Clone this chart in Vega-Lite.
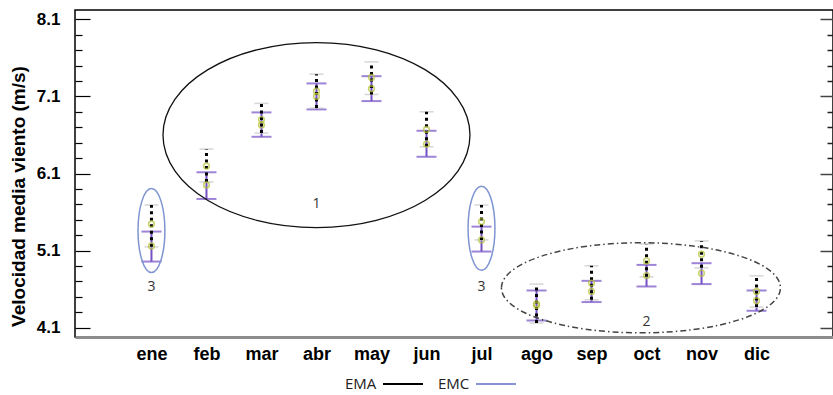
{
  "$schema": "https://vega.github.io/schema/vega-lite/v6.json",
  "autosize": {"type": "none"},
  "width": 758,
  "height": 327,
  "padding": {"left": 75, "top": 10, "right": 0, "bottom": 58},
  "background": "white",
  "config": {"view": {"stroke": "#000", "strokeWidth": 1.5}, "font": "Liberation Sans"},
  "datasets": {
    "bars": [
      {"month": "ene", "series": "EMA", "low": 5.149, "high": 5.692, "mean": 5.446},
      {"month": "feb", "series": "EMA", "low": 5.99, "high": 6.417, "mean": 6.197},
      {"month": "mar", "series": "EMA", "low": 6.624, "high": 7.009, "mean": 6.8},
      {"month": "abr", "series": "EMA", "low": 6.948, "high": 7.388, "mean": 7.168},
      {"month": "may", "series": "EMA", "low": 7.125, "high": 7.547, "mean": 7.345},
      {"month": "jun", "series": "EMA", "low": 6.447, "high": 6.9, "mean": 6.672},
      {"month": "jul", "series": "EMA", "low": 5.239, "high": 5.692, "mean": 5.476},
      {"month": "ago", "series": "EMA", "low": 4.161, "high": 4.666, "mean": 4.41},
      {"month": "sep", "series": "EMA", "low": 4.462, "high": 4.903, "mean": 4.68},
      {"month": "oct", "series": "EMA", "low": 4.76, "high": 5.187, "mean": 4.967},
      {"month": "nov", "series": "EMA", "low": 4.877, "high": 5.226, "mean": 5.054},
      {"month": "dic", "series": "EMA", "low": 4.368, "high": 4.773, "mean": 4.57},
      {"month": "ene", "series": "EMC", "low": 4.958, "high": 5.347, "mean": 5.161},
      {"month": "feb", "series": "EMC", "low": 5.77, "high": 6.116, "mean": 5.951},
      {"month": "mar", "series": "EMC", "low": 6.576, "high": 6.892, "mean": 6.73},
      {"month": "abr", "series": "EMC", "low": 6.931, "high": 7.268, "mean": 7.1},
      {"month": "may", "series": "EMC", "low": 7.039, "high": 7.362, "mean": 7.2},
      {"month": "jun", "series": "EMC", "low": 6.317, "high": 6.654, "mean": 6.482},
      {"month": "jul", "series": "EMC", "low": 5.088, "high": 5.411, "mean": 5.239},
      {"month": "ago", "series": "EMC", "low": 4.194, "high": 4.583, "mean": 4.39},
      {"month": "sep", "series": "EMC", "low": 4.433, "high": 4.708, "mean": 4.57},
      {"month": "oct", "series": "EMC", "low": 4.635, "high": 4.915, "mean": 4.777},
      {"month": "nov", "series": "EMC", "low": 4.666, "high": 4.937, "mean": 4.808},
      {"month": "dic", "series": "EMC", "low": 4.32, "high": 4.583, "mean": 4.45}
    ],
    "notes": [
      {"kind": "big", "month": "abr", "y": 6.598},
      {"kind": "small", "month": "ene", "y": 5.36},
      {"kind": "small", "month": "jul", "y": 5.39},
      {"kind": "dashdot", "month": "oct", "y": 4.618},
      {"kind": "label", "month": "abr", "y": 5.705, "text": "1"},
      {"kind": "label", "month": "oct", "y": 4.178, "text": "2"},
      {"kind": "label", "month": "ene", "y": 4.63, "text": "3"},
      {"kind": "label", "month": "jul", "y": 4.63, "text": "3"}
    ]
  },
  "resolve": {
    "scale": {"x": "shared", "y": "shared"},
    "axis": {"x": "independent", "y": "independent"}
  },
  "encoding": {
    "x": {"field": "month", "type": "ordinal", "scale": {"type": "point", "padding": 0.39, "domain": ["", "ene","feb","mar","abr","may","jun","jul","ago","sep","oct","nov","dic", " "]}, "axis": null}
  },
  "layer": [
    {
      "data": {"name": "bars"},
      "transform": [{"filter": "datum.series === 'EMC'"}],
      "mark": {"type": "rule", "color": "#7450c4", "strokeWidth": 2},
      "encoding": {
        "x": {"field": "month", "type": "ordinal", "scale": {"type": "point", "padding": 0.39, "domain": ["", "ene","feb","mar","abr","may","jun","jul","ago","sep","oct","nov","dic", " "]},
          "axis": {"orient": "bottom", "title": null, "ticks": false, "domainColor": "#8c8c8c", "domainWidth": 3, "labelFont": "Liberation Sans", "labelFontWeight": "bold", "labelFontSize": 18, "labelColor": "#000", "labelPadding": 8, "labelAngle": 0}},
        "y": {"field": "low", "type": "quantitative", "scale": {"domain": [3.98, 8.22], "nice": false, "zero": false},
          "axis": {"orient": "left", "offset": -15, "title": "Velocidad media viento (m/s)", "titleFont": "Liberation Sans", "titleFontWeight": "bold", "titleFontSize": 19, "titleColor": "#000", "titlePadding": 8, "titleY": 186,
            "values": [4.1, 5.1, 6.1, 7.1, 8.1], "format": ".1f",
            "tickSize": 15, "tickColor": "#000", "tickWidth": 1.2, "domain": false, "grid": false,
            "labelFont": "Liberation Sans", "labelFontWeight": "bold", "labelFontSize": 17, "labelColor": "#000", "labelPadding": 15}},
        "y2": {"field": "high"}
      }
    },
    {
      "data": {"name": "bars"},
      "transform": [{"filter": "datum.series === 'EMC'"}, {"fold": ["low", "high"], "as": ["end", "val"]}],
      "mark": {"type": "tick", "color": "#7450c4", "size": 20, "thickness": 2},
      "encoding": {
        "y": {"field": "val", "type": "quantitative", "scale": {"domain": [3.98, 8.22], "nice": false, "zero": false},
          "axis": {"orient": "left", "offset": -7, "title": null, "labels": false, "domain": false, "grid": false,
            "values": [4.3,4.5,4.7,4.9,5.3,5.5,5.7,5.9,6.3,6.5,6.7,6.9,7.3,7.5,7.7,7.9],
            "tickSize": 7, "tickColor": "#000", "tickWidth": 1.2}}
      }
    },
    {
      "data": {"name": "bars"},
      "transform": [{"filter": "datum.series === 'EMA'"}, {"fold": ["low", "high"], "as": ["end", "val"]}],
      "mark": {"type": "tick", "color": "#c4c4c4", "size": 14, "thickness": 1.5},
      "encoding": {
        "y": {"field": "val", "type": "quantitative", "scale": {"domain": [3.98, 8.22], "nice": false, "zero": false},
          "axis": {"orient": "right", "offset": -13, "title": null, "labels": false, "domain": false, "grid": false,
            "values": [4.1, 5.1, 6.1, 7.1, 8.1],
            "tickSize": 13, "tickColor": "#444", "tickWidth": 1.5}}
      }
    },
    {
      "data": {"name": "bars"},
      "transform": [{"filter": "datum.series === 'EMA'"}],
      "mark": {"type": "rule", "color": "#000", "strokeWidth": 3, "strokeDash": [3, 3.5]},
      "encoding": {
        "y": {"field": "low", "type": "quantitative", "scale": {"domain": [3.98, 8.22], "nice": false, "zero": false},
          "axis": {"orient": "right", "offset": -6, "title": null, "labels": false, "domain": false, "grid": false,
            "values": [4.3,4.5,4.7,4.9,5.3,5.5,5.7,5.9,6.3,6.5,6.7,6.9,7.3,7.5,7.7,7.9],
            "tickSize": 6, "tickColor": "#222", "tickWidth": 1.5}},
        "y2": {"field": "high"}
      }
    },
    {
      "data": {"name": "bars"},
      "mark": {"type": "point", "shape": "circle", "filled": false, "stroke": "#b5c236", "strokeWidth": 1.6, "size": 32},
      "encoding": {
        "y": {"field": "mean", "type": "quantitative", "scale": {"domain": [3.98, 8.22], "nice": false, "zero": false}, "axis": null}
      }
    },
    {
      "data": {"name": "bars"},
      "mark": {"type": "rule", "opacity": 0},
      "encoding": {
        "y": {"field": "low", "type": "quantitative", "scale": {"domain": [3.98, 8.22], "nice": false, "zero": false}, "axis": null},
        "y2": {"field": "high"},
        "color": {"field": "series", "type": "nominal", "scale": {"domain": ["EMA", "EMC"], "range": ["#000000", "#8a90d8"]},
          "legend": {"orient": "none", "legendX": 268, "legendY": 353, "direction": "horizontal", "title": null,
            "symbolType": "stroke", "symbolSize": 1600, "symbolStrokeWidth": 2, "symbolOpacity": 1,
            "symbolOffset": 39, "labelOffset": -79, "columnPadding": 9,
            "labelFont": "Open Sans", "labelFontSize": 15, "labelColor": "#222"}}
      }
    },
    {
      "data": {"name": "notes"},
      "transform": [{"filter": "datum.kind === 'big'"}],
      "mark": {"type": "point", "shape": "M-1,0A1,0.603,0,1,1,1,0A1,0.603,0,1,1,-1,0Z", "size": 94249, "filled": false, "stroke": "#111", "strokeWidth": 1.3, "opacity": 1},
      "encoding": {
        "y": {"field": "y", "type": "quantitative", "scale": {"domain": [3.98, 8.22], "nice": false, "zero": false}, "axis": null}
      }
    },
    {
      "data": {"name": "notes"},
      "transform": [{"filter": "datum.kind === 'small'"}],
      "mark": {"type": "point", "shape": "M0,-1A0.32,1,0,1,1,0,1A0.32,1,0,1,1,0,-1Z", "size": 7056, "filled": false, "stroke": "#7f95d2", "strokeWidth": 1.5, "opacity": 1},
      "encoding": {
        "y": {"field": "y", "type": "quantitative", "scale": {"domain": [3.98, 8.22], "nice": false, "zero": false}, "axis": null}
      }
    },
    {
      "data": {"name": "notes"},
      "transform": [{"filter": "datum.kind === 'dashdot'"}],
      "mark": {"type": "point", "shape": "M-1.04,0A1,0.323,0,1,1,0.96,0A1,0.323,0,1,1,-1.04,0Z", "size": 77841, "filled": false, "stroke": "#444", "strokeWidth": 1.5, "strokeDash": [6, 3, 1.5, 3], "opacity": 1},
      "encoding": {
        "y": {"field": "y", "type": "quantitative", "scale": {"domain": [3.98, 8.22], "nice": false, "zero": false}, "axis": null}
      }
    },
    {
      "data": {"name": "notes"},
      "transform": [{"filter": "datum.kind === 'label'"}],
      "mark": {"type": "text", "font": "Open Sans", "fontSize": 14, "color": "#333"},
      "encoding": {
        "y": {"field": "y", "type": "quantitative", "scale": {"domain": [3.98, 8.22], "nice": false, "zero": false}, "axis": null},
        "text": {"field": "text"}
      }
    }
  ]
}
